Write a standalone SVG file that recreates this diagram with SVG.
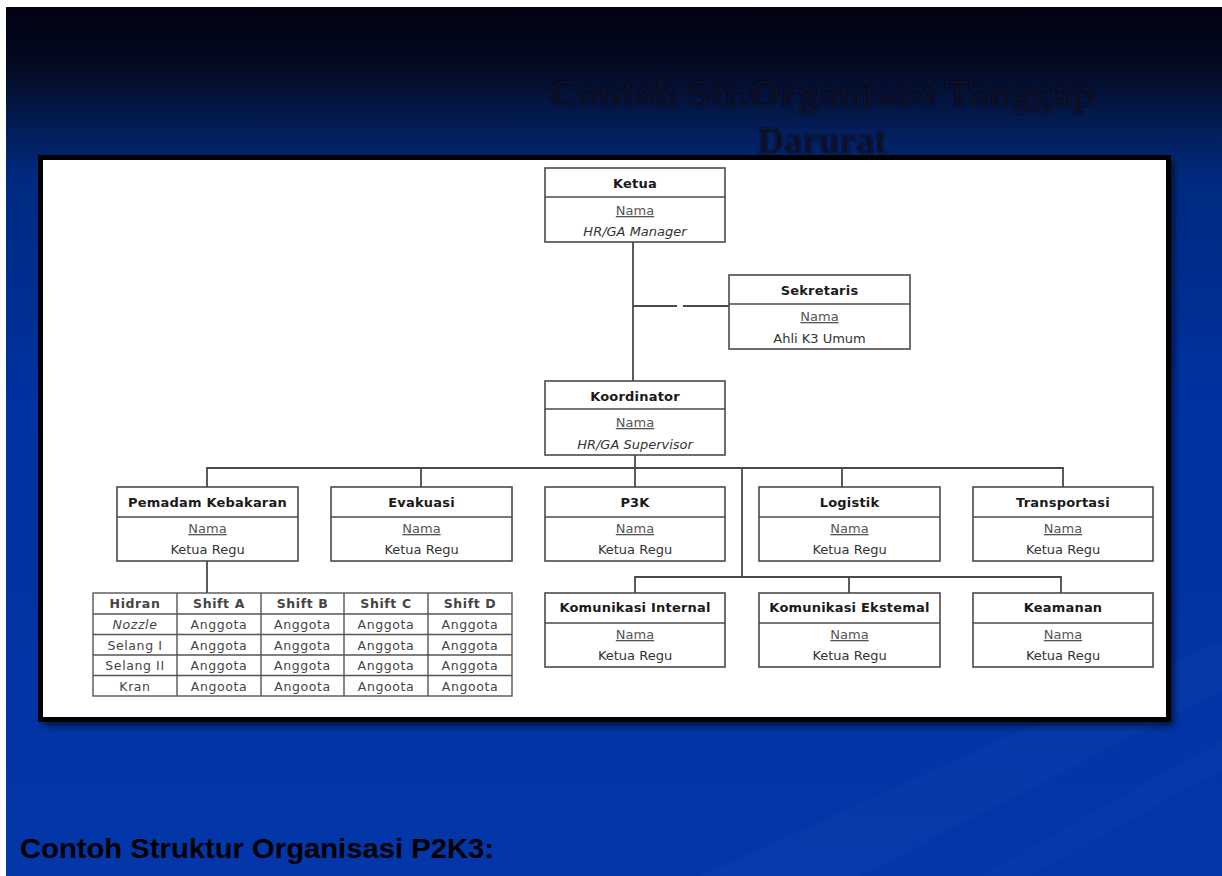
<svg xmlns="http://www.w3.org/2000/svg" width="1222" height="876" viewBox="0 0 1222 876">
<defs>
<linearGradient id="bg" x1="0" y1="0" x2="0" y2="1">
<stop offset="0" stop-color="#020210"/>
<stop offset="0.07" stop-color="#040a22"/>
<stop offset="0.15" stop-color="#03205f"/>
<stop offset="0.2" stop-color="#002a80"/>
<stop offset="0.45" stop-color="#0031a0"/>
<stop offset="1" stop-color="#0336a8"/>
</linearGradient>
<filter id="sh" x="-5%" y="-5%" width="110%" height="110%">
<feGaussianBlur stdDeviation="3"/>
</filter>
<filter id="soft" x="-5%" y="-20%" width="110%" height="140%">
<feGaussianBlur stdDeviation="0.8"/>
</filter>
</defs>
<style>
.box{fill:#fff;stroke:#4a4a4a;stroke-width:1.6}
.div{stroke:#4a4a4a;stroke-width:1.6}
.con{fill:none;stroke:#4a4a4a;stroke-width:1.8}
.t{font-family:"DejaVu Sans",sans-serif;font-size:13px;text-anchor:middle;fill:#333}
.b{font-weight:bold;fill:#1a1a1a;letter-spacing:0.2px}
.n{text-decoration:underline;fill:#555}
.i{font-style:italic}
.c{font-family:"DejaVu Sans",sans-serif;font-size:12.5px;text-anchor:middle;fill:#444;letter-spacing:0.6px}
.grid{stroke:#555;stroke-width:1.4;fill:none}
</style>
<rect x="0" y="0" width="1222" height="876" fill="#fff"/>
<rect x="6" y="7" width="1216" height="869" fill="url(#bg)"/>
<path d="M700 876 L1222 640 L1222 690 L860 876 Z" fill="#1a4bb8" opacity="0.18"/>
<path d="M980 876 L1222 740 L1222 770 L1030 876 Z" fill="#1a4bb8" opacity="0.15"/>
<g filter="url(#soft)">
<text x="822" y="106" font-family="Liberation Serif, serif" font-weight="bold" font-size="37" text-anchor="middle" fill="#0a0d24" textLength="546" lengthAdjust="spacingAndGlyphs">Contoh Str.Organisasi Tanggap</text>
<text x="822" y="153" font-family="Liberation Serif, serif" font-weight="bold" font-size="37" text-anchor="middle" fill="#0a0d24">Darurat</text>
</g>
<rect x="44" y="162" width="1130" height="564" fill="#000" opacity="0.6" filter="url(#sh)"/>
<rect x="40.5" y="157.5" width="1128" height="562" fill="#fff" stroke="#000" stroke-width="5"/>
<text x="20" y="858" font-family="Liberation Sans, Arial, sans-serif" font-weight="bold" font-size="28" fill="#000" textLength="474" lengthAdjust="spacingAndGlyphs">Contoh Struktur Organisasi P2K3:</text>

<g id="connectors">
<path class="con" d="M633 242 V381"/>
<path class="con" d="M633 306 H677 M683 306 H729"/>
<path class="con" d="M635 455 V468"/>
<path class="con" d="M207 487 V468 H1063 V487"/>
<path class="con" d="M421 468 V487 M635 468 V487 M842 468 V487"/>
<path class="con" d="M742 468 V577"/>
<path class="con" d="M635 593 V577 H1061 V593 M849 577 V593"/>
<path class="con" d="M207 561 V593"/>
</g>

<g id="ketua">
<rect class="box" x="545" y="168" width="180" height="74"/>
<line class="div" x1="545" y1="197" x2="725" y2="197"/>
<text class="t b" x="635" y="188">Ketua</text>
<text class="t n" x="635" y="215">Nama</text>
<text class="t i" x="635" y="236">HR/GA Manager</text>
</g>
<g id="sekretaris">
<rect class="box" x="729" y="275" width="181" height="74"/>
<line class="div" x1="729" y1="304" x2="910" y2="304"/>
<text class="t b" x="819.5" y="295">Sekretaris</text>
<text class="t n" x="819.5" y="321">Nama</text>
<text class="t" x="819.5" y="343">Ahli K3 Umum</text>
</g>
<g id="koordinator">
<rect class="box" x="545" y="381" width="180" height="74"/>
<line class="div" x1="545" y1="409" x2="725" y2="409"/>
<text class="t b" x="635" y="401">Koordinator</text>
<text class="t n" x="635" y="427">Nama</text>
<text class="t i" x="635" y="449">HR/GA Supervisor</text>
</g>

<g id="pemadam">
<rect class="box" x="117" y="487" width="181" height="74"/>
<line class="div" x1="117" y1="517" x2="298" y2="517"/>
<text class="t b" x="207.5" y="507">Pemadam Kebakaran</text>
<text class="t n" x="207.5" y="533">Nama</text>
<text class="t" x="207.5" y="554">Ketua Regu</text>
</g>
<g id="evakuasi">
<rect class="box" x="331" y="487" width="181" height="74"/>
<line class="div" x1="331" y1="517" x2="512" y2="517"/>
<text class="t b" x="421.5" y="507">Evakuasi</text>
<text class="t n" x="421.5" y="533">Nama</text>
<text class="t" x="421.5" y="554">Ketua Regu</text>
</g>
<g id="p3k">
<rect class="box" x="545" y="487" width="180" height="74"/>
<line class="div" x1="545" y1="517" x2="725" y2="517"/>
<text class="t b" x="635" y="507">P3K</text>
<text class="t n" x="635" y="533">Nama</text>
<text class="t" x="635" y="554">Ketua Regu</text>
</g>
<g id="logistik">
<rect class="box" x="759" y="487" width="181" height="74"/>
<line class="div" x1="759" y1="517" x2="940" y2="517"/>
<text class="t b" x="849.5" y="507">Logistik</text>
<text class="t n" x="849.5" y="533">Nama</text>
<text class="t" x="849.5" y="554">Ketua Regu</text>
</g>
<g id="transportasi">
<rect class="box" x="973" y="487" width="180" height="74"/>
<line class="div" x1="973" y1="517" x2="1153" y2="517"/>
<text class="t b" x="1063" y="507">Transportasi</text>
<text class="t n" x="1063" y="533">Nama</text>
<text class="t" x="1063" y="554">Ketua Regu</text>
</g>

<g id="komunikasi-internal">
<rect class="box" x="545" y="593" width="180" height="74"/>
<line class="div" x1="545" y1="623" x2="725" y2="623"/>
<text class="t b" x="635" y="612">Komunikasi Internal</text>
<text class="t n" x="635" y="639">Nama</text>
<text class="t" x="635" y="660">Ketua Regu</text>
</g>
<g id="komunikasi-eksternal">
<rect class="box" x="759" y="593" width="181" height="74"/>
<line class="div" x1="759" y1="623" x2="940" y2="623"/>
<text class="t b" x="849.5" y="612">Komunikasi Ekstemal</text>
<text class="t n" x="849.5" y="639">Nama</text>
<text class="t" x="849.5" y="660">Ketua Regu</text>
</g>
<g id="keamanan">
<rect class="box" x="973" y="593" width="180" height="74"/>
<line class="div" x1="973" y1="623" x2="1153" y2="623"/>
<text class="t b" x="1063" y="612">Keamanan</text>
<text class="t n" x="1063" y="639">Nama</text>
<text class="t" x="1063" y="660">Ketua Regu</text>
</g>

<g id="tabel-hidran">
<rect x="93" y="593" width="419" height="103" fill="#fff" stroke="#555" stroke-width="1.4"/>
<path class="grid" d="M93 614 H512 M93 634.5 H512 M93 655 H512 M93 675.5 H512 M177 593 V696 M261 593 V696 M344 593 V696 M428 593 V696"/>
<g class="c">
<text class="c b" x="135" y="608">Hidran</text>
<text class="c b" x="219" y="608">Shift A</text>
<text class="c b" x="302.5" y="608">Shift B</text>
<text class="c b" x="386" y="608">Shift C</text>
<text class="c b" x="470" y="608">Shift D</text>
<text class="c i" x="135" y="629">Nozzle</text>
<text class="c" x="219" y="629">Anggota</text>
<text class="c" x="302.5" y="629">Anggota</text>
<text class="c" x="386" y="629">Anggota</text>
<text class="c" x="470" y="629">Anggota</text>
<text class="c" x="135" y="650">Selang I</text>
<text class="c" x="219" y="650">Anggota</text>
<text class="c" x="302.5" y="650">Anggota</text>
<text class="c" x="386" y="650">Anggota</text>
<text class="c" x="470" y="650">Anggota</text>
<text class="c" x="135" y="670">Selang II</text>
<text class="c" x="219" y="670">Anggota</text>
<text class="c" x="302.5" y="670">Anggota</text>
<text class="c" x="386" y="670">Anggota</text>
<text class="c" x="470" y="670">Anggota</text>
<text class="c" x="135" y="691">Kran</text>
<text class="c" x="219" y="691">Angoota</text>
<text class="c" x="302.5" y="691">Angoota</text>
<text class="c" x="386" y="691">Angoota</text>
<text class="c" x="470" y="691">Angoota</text>
</g>
</g>
</svg>
